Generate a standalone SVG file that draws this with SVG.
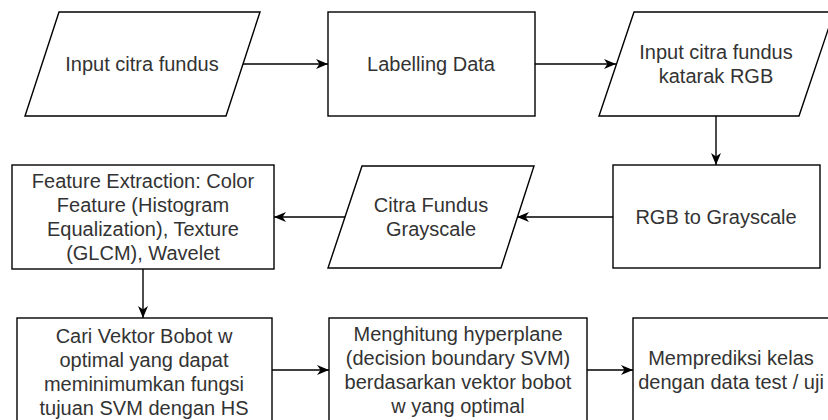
<svg xmlns="http://www.w3.org/2000/svg" width="828" height="420" viewBox="0 0 828 420">
<defs>
<style>
.s{fill:#fff;stroke:#000;stroke-width:1.4}
.t{font-family:"Liberation Sans",Arial,sans-serif;font-size:20px;fill:#333;text-anchor:middle}
.c{fill:none;stroke:#000;stroke-width:1.4}
</style>
<marker id="ah" markerUnits="userSpaceOnUse" markerWidth="14" markerHeight="12" refX="12" refY="6" orient="auto">
<path d="M0,1 L12,6 L0,11 L3.5,6 Z" fill="#000"/>
</marker>
</defs>
<rect width="828" height="420" fill="#fff"/>
<g id="connectors">
<path class="c" d="M243,64 H328" marker-end="url(#ah)"/>
<path class="c" d="M535,64 H616" marker-end="url(#ah)"/>
<path class="c" d="M716,116 V165" marker-end="url(#ah)"/>
<path class="c" d="M613,217 H517" marker-end="url(#ah)"/>
<path class="c" d="M345,217 H274" marker-end="url(#ah)"/>
<path class="c" d="M143,269 V318" marker-end="url(#ah)"/>
<path class="c" d="M272,370 H329" marker-end="url(#ah)"/>
<path class="c" d="M587,370 H633" marker-end="url(#ah)"/>
</g>
<g id="n1">
<polygon class="s" points="59,12 260,12 226,116 25,116"/>
<text class="t" x="142" y="71">Input citra fundus</text>
</g>
<g id="n2">
<rect class="s" x="328" y="12" width="207" height="104"/>
<text class="t" x="431" y="71">Labelling Data</text>
</g>
<g id="n3">
<polygon class="s" points="634,12 834,12 799,116 599,116"/>
<text class="t" x="716" y="59">Input citra fundus</text>
<text class="t" x="716" y="83">katarak RGB</text>
</g>
<g id="n4">
<rect class="s" x="613" y="165" width="207" height="103"/>
<text class="t" x="716" y="224">RGB to Grayscale</text>
</g>
<g id="n5">
<polygon class="s" points="362,166 534,166 501,268 328,268"/>
<text class="t" x="431" y="212">Citra Fundus</text>
<text class="t" x="431" y="236">Grayscale</text>
</g>
<g id="n6">
<rect class="s" x="12" y="165" width="262" height="104"/>
<text class="t" x="143" y="188">Feature Extraction: Color</text>
<text class="t" x="143" y="212">Feature (Histogram</text>
<text class="t" x="143" y="236">Equalization), Texture</text>
<text class="t" x="143" y="260">(GLCM), Wavelet</text>
</g>
<g id="n7">
<rect class="s" x="17" y="318" width="255" height="110"/>
<text class="t" x="144" y="343">Cari Vektor Bobot w</text>
<text class="t" x="144" y="367">optimal yang dapat</text>
<text class="t" x="144" y="391">meminimumkan fungsi</text>
<text class="t" x="144" y="415">tujuan SVM dengan HS</text>
</g>
<g id="n8">
<rect class="s" x="329" y="318" width="258" height="110"/>
<text class="t" x="458" y="341">Menghitung hyperplane</text>
<text class="t" x="458" y="365">(decision boundary SVM)</text>
<text class="t" x="458" y="389">berdasarkan vektor bobot</text>
<text class="t" x="458" y="413">w yang optimal</text>
</g>
<g id="n9">
<rect class="s" x="633" y="318" width="200" height="110"/>
<text class="t" x="731" y="365">Memprediksi kelas</text>
<text class="t" x="731" y="389">dengan data test / uji</text>
</g>
</svg>
